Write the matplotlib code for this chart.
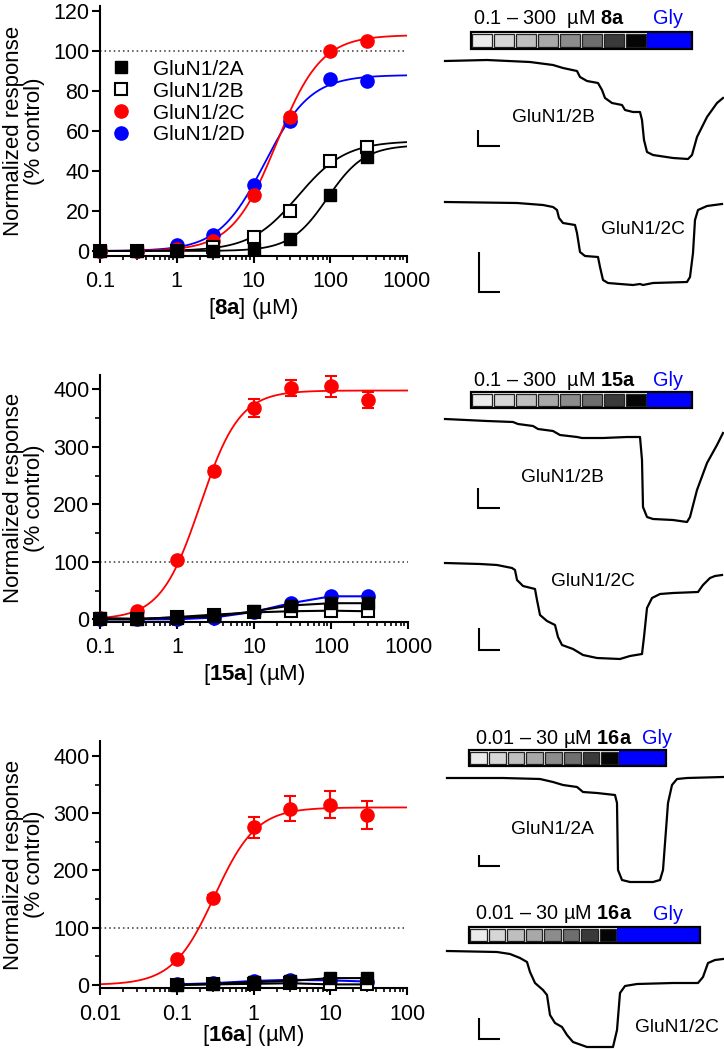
import numpy as np
import matplotlib
matplotlib.use("Agg")
import matplotlib.pyplot as plt
from matplotlib.lines import Line2D
from matplotlib.patches import Rectangle
from matplotlib.ticker import LogLocator, MultipleLocator, NullLocator, NullFormatter, FixedLocator

plt.rcParams['font.family'] = ['Liberation Sans', 'DejaVu Sans']
plt.rcParams['mathtext.fontset'] = 'custom'
plt.rcParams['mathtext.rm'] = 'Liberation Sans'
plt.rcParams['mathtext.bf'] = 'Liberation Sans:bold'

# ---------------- dose-response data ----------------
conc_8a = [0.1, 0.3, 1, 3, 10, 30, 100, 300]
r8a_2A = [0, 0, 0, 0, 1, 6, 28, 47]
r8a_2B = [0, 0, 0, 2, 7, 20, 45, 52]
r8a_2C = [0, 0, 1, 5, 28, 67, 100, 105]
r8a_2D = [0, 0, 3, 8, 33, 65, 86, 85]
# Hill fit parameters: top, EC50 (uM), nH
fit8a_2A = [53, 92, 1.8]
fit8a_2B = [55, 38, 1.4]
fit8a_2C = [108, 20, 1.5]
fit8a_2D = [88, 14, 1.45]

conc_15a = [0.1, 0.3, 1, 3, 10, 30, 100, 300]
r15a_2A = [2, 1, 3, 5, 14, 24, 28, 28]
r15a_2B = [0, 0, 4, 8, 12, 14, 15, 14]
r15a_2C = [2, 15, 103, 258, 368, 403, 405, 381]
e15a_2C = [1, 2, 4, 6, 16, 14, 18, 14]
r15a_2D = [0, 0, 0, 3, 13, 28, 40, 40]
fit15a_2C = [398, 2.0, 1.7]

conc_16a = [0.1, 0.3, 1, 3, 10, 30]
r16a_2A = [0, 2, 5, 7, 12, 12]
r16a_2B = [0, 1, 2, 3, 1, 1]
r16a_2C = [45, 152, 275, 308, 315, 297]
e16a_2C = [3, 5, 18, 22, 24, 24]
r16a_2D = [1, 3, 7, 9, 8, 6]
fit16a_2C = [310, 0.31, 1.6]

xt_a = [0.1, 1, 10, 100, 1000]
xtl_a = ["0.1", "1", "10", "100", "1000"]
xt_b = [0.01, 0.1, 1, 10, 100]
xtl_b = ["0.01", "0.1", "1", "10", "100"]

legend_labels = ["GluN1/2A", "GluN1/2B", "GluN1/2C", "GluN1/2D"]

# ---------------- current traces (time units, current units rel. to baseline) ----------------
t_8a_2B = [0, 42, 85, 108, 118, 132, 135, 142, 153, 157, 160, 167, 177, 180, 188, 195, 197, 199, 202, 208, 228, 243, 247, 252, 262, 272, 278]
i_8a_2B = [0, 1, -1, -4, -7, -10, -16, -20, -22, -29, -37, -42, -44, -49, -51, -51, -59, -79, -91, -94, -97, -98, -94, -76, -56, -42, -37]
t_8a_2C = [0, 72, 98, 108, 112, 114, 118, 130, 132, 135, 140, 153, 155, 158, 163, 175, 188, 195, 198, 208, 242, 245, 248, 250, 253, 262, 277]
i_8a_2C = [0, -1, -3, -5, -8, -16, -21, -23, -31, -50, -54, -55, -65, -78, -81, -82, -83, -82, -83, -81, -80, -75, -51, -18, -8, -4, -2]
t_15a_2B = [0, 42, 68, 73, 88, 93, 108, 115, 132, 137, 158, 182, 195, 197, 198, 202, 208, 228, 242, 245, 252, 262, 272, 278]
i_15a_2B = [0, -2, -3, -5, -7, -10, -12, -16, -18, -19, -19, -18, -18, -41, -88, -98, -100, -101, -103, -98, -71, -44, -26, -14]
t_15a_2C = [0, 35, 52, 67, 70, 72, 78, 90, 92, 95, 102, 110, 113, 117, 128, 138, 152, 175, 185, 197, 199, 202, 207, 215, 228, 253, 258, 265, 270, 277]
i_15a_2C = [0, -1, -2, -5, -7, -17, -23, -26, -37, -52, -58, -62, -74, -82, -86, -92, -95, -96, -93, -91, -74, -45, -35, -31, -30, -29, -22, -15, -13, -12]
t_16a_2A = [0, 56, 93, 106, 116, 130, 136, 150, 168, 170, 171, 175, 183, 206, 213, 216, 221, 225, 230, 240, 276]
i_16a_2A = [0, 0, -1, -4, -7, -9, -14, -15, -17, -25, -92, -102, -104, -104, -102, -92, -25, -7, -1, 0, 1]
t_16a_2C = [0, 50, 63, 73, 80, 83, 88, 96, 100, 103, 108, 115, 120, 126, 140, 150, 166, 170, 173, 178, 190, 226, 251, 256, 261, 268, 276]
i_16a_2C = [0, -1, -3, -7, -11, -21, -32, -39, -44, -64, -72, -76, -84, -91, -96, -96, -96, -79, -42, -35, -33, -32, -32, -26, -12, -9, -8]

gray_levels = ['#ebebeb', '#d6d6d6', '#bfbfbf', '#a8a8a8', '#8c8c8c', '#6e6e6e', '#3a3a3a', '#050505']

W, H = 724, 1050
fig = plt.figure(figsize=(W / 100, H / 100), dpi=100)


def px_axes(x0, y0, x1, y1):
    return fig.add_axes([x0 / W, 1 - y1 / H, (x1 - x0) / W, (y1 - y0) / H])


def ptext(x, y, s, **kw):
    fig.text(x / W, 1 - y / H, s, **kw)


def hill(x, p):
    top, ec50, n = p
    return top / (1 + (ec50 / x) ** n)


TICK_FS = 15.5
LAB_FS = 16
MS = 9


def style_dr(ax, xlim, ylim, yticks, yminor, xt, xtl, xlabel, xlab_y):
    ax.set_xscale('log')
    ax.set_xlim(xlim)
    ax.set_ylim(ylim)
    for s in ['top', 'right']:
        ax.spines[s].set_visible(False)
    for s in ['left', 'bottom']:
        ax.spines[s].set_linewidth(1.5)
    ax.set_yticks(yticks)
    ax.set_yticklabels([str(v) for v in yticks])
    if yminor:
        ax.yaxis.set_minor_locator(MultipleLocator(yminor))
    else:
        ax.yaxis.set_minor_locator(NullLocator())
    ax.xaxis.set_major_locator(FixedLocator(xt))
    ax.set_xticklabels(xtl)
    ax.xaxis.set_minor_locator(LogLocator(base=10, subs=np.arange(2, 10), numticks=20))
    ax.xaxis.set_minor_formatter(NullFormatter())
    ax.tick_params(axis='x', which='major', length=5, width=1.5, pad=6, labelsize=TICK_FS)
    ax.tick_params(axis='x', which='minor', length=2.8, width=1.2)
    ax.tick_params(axis='y', which='major', length=6, width=1.5, pad=1.5, labelsize=TICK_FS)
    ax.tick_params(axis='y', which='minor', length=3.6, width=1.2)
    ax.set_ylabel("Normalized response\n(% control)", fontsize=LAB_FS, linespacing=1.0)
    ax.yaxis.set_label_coords(-0.178, 0.5)
    ax.set_xlabel(xlabel, fontsize=LAB_FS)
    ax.xaxis.set_label_coords(0.5, xlab_y)
    ax.axhline(100, color='#333333', lw=1.1, ls=(0, (1, 2)), zorder=1)


# ---------------- panel 1 ----------------
ax1 = px_axes(100, 6, 407, 256)
xx = np.logspace(-1, 3, 400)
ax1.plot(xx, hill(xx, fit8a_2D), color='blue', lw=1.3, zorder=2)
ax1.plot(xx, hill(xx, fit8a_2C), color='red', lw=1.3, zorder=2)
ax1.plot(xx, hill(xx, fit8a_2B), color='black', lw=1.3, zorder=2)
ax1.plot(xx, hill(xx, fit8a_2A), color='black', lw=1.3, zorder=2)
ax1.plot(conc_8a, r8a_2D, 'o', color='blue', ms=MS + 0.5, zorder=3, clip_on=False)
ax1.plot(conc_8a, r8a_2C, 'o', color='red', ms=MS + 0.5, zorder=3, clip_on=False)
ax1.plot(conc_8a, r8a_2B, 's', mfc='white', mec='black', mew=1.5, ms=MS, zorder=4, clip_on=False)
ax1.plot(conc_8a, r8a_2A, 's', color='black', ms=MS, zorder=5, clip_on=False)
style_dr(ax1, (0.1, 1000), (-2.5, 122.5), [0, 20, 40, 60, 80, 100, 120], None, xt_a, xtl_a,
         r"[$\mathbf{8a}$] (µM)", -0.16)
handles = [Line2D([], [], ls='none', marker='s', color='black', ms=MS),
           Line2D([], [], ls='none', marker='s', mfc='white', mec='black', mew=1.5, ms=MS),
           Line2D([], [], ls='none', marker='o', color='red', ms=MS + 0.5),
           Line2D([], [], ls='none', marker='o', color='blue', ms=MS + 0.5)]
ax1.legend(handles, legend_labels, loc='upper left', bbox_to_anchor=(0.034, 0.785), frameon=False,
           handlelength=1.0, handletextpad=1.05, labelspacing=0.14, borderpad=0, borderaxespad=0,
           fontsize=15)

# ---------------- panel 2 ----------------
ax2 = px_axes(100, 375, 408, 621.6)
ax2.plot(xx, hill(xx, fit15a_2C), color='red', lw=1.3, zorder=2)
ax2.errorbar(conc_15a, r15a_2C, yerr=e15a_2C, fmt='o', color='red', ms=MS + 0.5, capsize=4.5,
             elinewidth=1.5, capthick=1.5, zorder=3)
ax2.plot(conc_15a, r15a_2D, '-o', color='blue', ms=MS + 0.5, lw=1.5, zorder=4, clip_on=False)
ax2.plot(conc_15a, r15a_2B, '-s', color='black', mfc='white', mec='black', mew=1.5, ms=MS, lw=1.5, zorder=5, clip_on=False)
ax2.plot(conc_15a, r15a_2A, '-s', color='black', ms=MS, lw=1.5, zorder=6, clip_on=False)
style_dr(ax2, (0.1, 1000), (-4, 425), [0, 100, 200, 300, 400], 50, xt_a, xtl_a,
         r"[$\mathbf{15a}$] (µM)", -0.165)

# ---------------- panel 3 ----------------
ax3 = px_axes(100, 741, 407, 988.4)
xx3 = np.logspace(-2, 2, 400)
ax3.plot(xx3, hill(xx3, fit16a_2C), color='red', lw=1.3, zorder=2)
ax3.errorbar(conc_16a, r16a_2C, yerr=e16a_2C, fmt='o', color='red', ms=MS + 0.5, capsize=4.5,
             elinewidth=1.5, capthick=1.5, zorder=3)
ax3.plot(conc_16a, r16a_2D, '-o', color='blue', ms=MS + 0.5, lw=1.5, zorder=4, clip_on=False)
ax3.plot(conc_16a, r16a_2B, '-s', color='black', mfc='white', mec='black', mew=1.5, ms=MS, lw=1.5, zorder=5, clip_on=False)
ax3.plot(conc_16a, r16a_2A, '-s', color='black', ms=MS, lw=1.5, zorder=6, clip_on=False)
style_dr(ax3, (0.01, 100), (-6, 426), [0, 100, 200, 300, 400], 50, xt_b, xtl_b,
         r"[$\mathbf{16a}$] (µM)", -0.14)

# ---------------- concentration bars ----------------
bars = [
    dict(x0=471, xg=647, x1=692, y0=32, y1=49, tx=473, ty=19, gx=668,
         text=r"0.1 – 300  µM $\mathbf{8a}$"),
    dict(x0=471, xg=647, x1=692, y0=392, y1=408, tx=473, ty=381, gx=668,
         text=r"0.1 – 300  µM $\mathbf{15a}$"),
    dict(x0=469, xg=619, x1=666, y0=750, y1=766, tx=475, ty=739, gx=657,
         text=r"0.01 – 30 µM $\mathbf{16a}$"),
    dict(x0=469, xg=617, x1=700, y0=927, y1=943, tx=475, ty=914, gx=668,
         text=r"0.01 – 30 µM $\mathbf{16a}$"),
]
for b in bars:
    bax = px_axes(b['x0'], b['y0'], b['x1'], b['y1'])
    bax.set_axis_off()
    seg = (b['xg'] - b['x0']) / 8.0
    bax.set_xlim(0, b['x1'] - b['x0'])
    bax.set_ylim(0, 1)
    for k, c in enumerate(gray_levels):
        bax.add_patch(Rectangle((k * seg + 1, 0.1), seg - 2, 0.8, facecolor=c, edgecolor='#222222',
                                lw=0.9, clip_on=False))
    bax.add_patch(Rectangle((8 * seg, 0), b['x1'] - b['xg'], 1, facecolor='#0000ff', edgecolor='none',
                            clip_on=False))
    bax.add_patch(Rectangle((0, 0), b['x1'] - b['x0'], 1, facecolor='none', edgecolor='black',
                            lw=1.6, clip_on=False))
    ptext(b['tx'], b['ty'], b['text'], fontsize=14.3, ha='left', va='center')
    ptext(b['gx'], b['ty'], "Gly", fontsize=14.3, ha='center', va='center', color='#0000ff')

# ---------------- traces ----------------
trace_specs = [
    (445, 61, t_8a_2B, i_8a_2B, "GluN1/2B", 108, -56, (33, 55, -69, -85)),
    (445, 202, t_8a_2C, i_8a_2C, "GluN1/2C", 198, -27, (34, 55, -50, -90)),
    (445, 419, t_15a_2B, i_15a_2B, "GluN1/2B", 117, -58, (33, 55, -69, -89)),
    (445, 563, t_15a_2C, i_15a_2C, "GluN1/2C", 148, -19, (34, 55, -65, -87)),
    (447, 778, t_16a_2A, i_16a_2A, "GluN1/2A", 105, -52, (32, 53, -77, -88)),
    (447, 951, t_16a_2C, i_16a_2C, "GluN1/2C", 230, -77, (32, 53, -67, -88)),
]
for x0, base, t, cur, lab, lx, ly, sb in trace_specs:
    top, bot = base - 20, base + 110
    tax = px_axes(x0, top, 724, bot)
    tax.set_xlim(0, 724 - x0)
    tax.set_ylim(-(bot - base), base - top)
    tax.set_axis_off()
    tax.plot(t, cur, color='black', lw=1.6, clip_on=False, solid_joinstyle='round')
    tax.text(lx, ly, lab, fontsize=13.8, ha='center', va='center')
    sx0, sx1, sy0, sy1 = sb
    tax.plot([sx0, sx0, sx1], [sy0, sy1, sy1], color='black', lw=1.5, clip_on=False,
             solid_joinstyle='miter', solid_capstyle='butt')

fig.savefig("out.png", dpi=100)
